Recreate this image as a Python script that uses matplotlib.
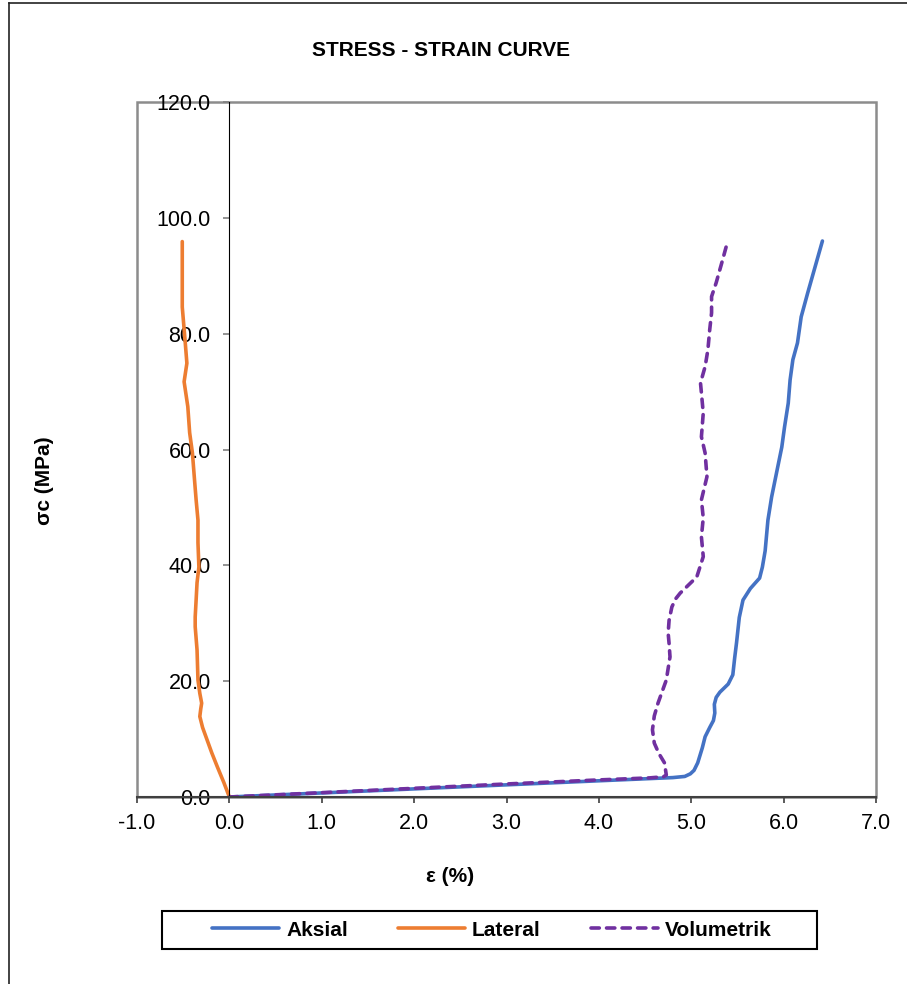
import numpy as np
import matplotlib.pyplot as plt
from matplotlib.patches import Rectangle
from matplotlib.lines import Line2D

plt.rcParams['font.family'] = ['Liberation Sans', 'DejaVu Sans']

# strain (%) / stress (MPa)
aksial_x = [0.0, 1.0, 2.0, 3.0, 4.0, 4.80, 4.93, 4.99, 5.03, 5.07, 5.12, 5.15, 5.20, 5.24,
            5.255, 5.25, 5.27, 5.31, 5.40, 5.45, 5.47, 5.49, 5.52, 5.56, 5.64, 5.74,
            5.77, 5.80, 5.83, 5.87, 5.93, 5.98, 6.01, 6.05, 6.07, 6.10, 6.15, 6.19,
            6.26, 6.34, 6.42]
aksial_y = [0.0, 0.7, 1.4, 2.1, 2.8, 3.35, 3.55, 4.0, 4.6, 5.9, 8.5, 10.4, 12.0, 13.2,
            14.5, 16.0, 17.2, 18.1, 19.5, 21.1, 24.0, 26.6, 31.0, 34.0, 36.0, 37.8,
            39.7, 42.5, 47.8, 51.8, 56.5, 60.4, 63.9, 68.0, 72.0, 75.5, 78.4, 82.9,
            87.0, 91.5, 96.0]

lateral_x = [0.0, -0.06, -0.13, -0.19, -0.24, -0.29, -0.32, -0.31, -0.30, -0.32, -0.34,
             -0.35, -0.37, -0.37, -0.36, -0.35, -0.33, -0.34, -0.34, -0.36, -0.38, -0.40,
             -0.43, -0.45, -0.49, -0.46, -0.48, -0.51, -0.51, -0.51]
lateral_y = [0.0, 2.5, 5.2, 7.6, 9.8, 12.0, 13.9, 15.2, 16.2, 17.9, 20.2,
             25.4, 29.4, 31.1, 34.0, 37.0, 39.7, 43.9, 47.8, 51.3, 55.3, 59.4,
             62.9, 67.4, 71.7, 74.9, 78.9, 84.6, 88.1, 95.9]

volum_x = [0.0, 1.0, 2.0, 3.0, 4.0, 4.55, 4.70, 4.73, 4.71, 4.65, 4.60, 4.58, 4.60, 4.64,
           4.73, 4.77, 4.76, 4.75, 4.76, 4.79, 4.83, 4.88, 5.06, 5.13, 5.11, 5.13, 5.11,
           5.17, 5.15, 5.11, 5.13, 5.10, 5.15, 5.18, 5.20, 5.22, 5.22, 5.27, 5.33, 5.39]
volum_y = [0.0, 0.75, 1.5, 2.25, 2.95, 3.3, 3.5, 3.8, 5.9, 7.5, 9.3, 11.6, 14.0, 16.2,
           20.2, 24.2, 26.5, 28.3, 30.5, 32.8, 34.2, 35.2, 38.0, 41.5, 44.9, 48.2, 51.3,
           55.3, 59.4, 62.2, 66.3, 71.5, 74.3, 77.2, 80.7, 83.6, 86.4, 88.8, 92.2, 95.7]

x_ticks = np.arange(-1.0, 7.01, 1.0)
y_ticks = np.arange(0.0, 120.01, 20.0)

fig = plt.figure(figsize=(9.07, 9.84), dpi=100)
W, H = 907.0, 984.0
ax = fig.add_axes([137 / W, 1 - 797 / H, (876 - 137) / W, (797 - 102) / H])

lw = 2.6
ax.plot(aksial_x, aksial_y, color='#4472C4', lw=lw, solid_joinstyle='round',
        solid_capstyle='round', label='Aksial')
ax.plot(lateral_x, lateral_y, color='#ED7D31', lw=lw, solid_joinstyle='round',
        solid_capstyle='round', label='Lateral')
ax.plot(volum_x, volum_y, color='#7030A0', lw=lw, ls=(0, (2.3, 2.0)),
        dash_capstyle='round', dash_joinstyle='round', label='Volumetrik')

ax.set_xlim(-1, 7)
ax.set_ylim(0, 120)
ax.set_xticks(x_ticks)
ax.set_yticks(y_ticks)
ax.set_xticklabels(['%.1f' % v for v in x_ticks])
ax.set_yticklabels(['%.1f' % v for v in y_ticks])

ax.spines['left'].set_position(('data', 0))
ax.spines['left'].set_color('black')
ax.spines['left'].set_linewidth(0.8)
ax.spines['bottom'].set_color('#404040')
ax.spines['bottom'].set_linewidth(1.5)
ax.spines['top'].set_visible(False)
ax.spines['right'].set_visible(False)
ax.add_patch(Rectangle((0, 0), 1, 1, transform=ax.transAxes, fill=False,
                       edgecolor='#8c8c8c', lw=1.8, clip_on=False, zorder=0.5))

ax.tick_params(axis='y', direction='out', length=4.5, width=1.2, color='#808080',
               labelsize=15.5, pad=9)
ax.tick_params(axis='x', direction='out', length=4.5, width=1.2, color='#404040',
               labelsize=15.5, pad=7)

fig.text(441 / W, 1 - 50 / H, 'STRESS - STRAIN CURVE', ha='center', va='center',
         fontsize=15, fontweight='bold')
fig.text(44 / W, 1 - 481 / H, 'σc (MPa)', ha='center', va='center', rotation=90,
         fontsize=15, fontweight='bold')
fig.text(450 / W, 1 - 877 / H, 'ε (%)', ha='center', va='center',
         fontsize=15, fontweight='bold')

leg = fig.legend(loc='center', bbox_to_anchor=(492 / W, 1 - 930 / H), ncol=3,
                 frameon=False, handlelength=3.2, handletextpad=0.35,
                 columnspacing=2.4, prop={'weight': 'bold', 'size': 15})
fig.add_artist(Rectangle((162 / W, 1 - 949 / H), (817 - 162) / W, 38 / H,
                         transform=fig.transFigure, fill=False, edgecolor='black', lw=1.5))

# outer chart border (only top and left visible)
fig.add_artist(Line2D([9 / W, 1.0], [1 - 3 / H, 1 - 3 / H], transform=fig.transFigure,
                      color='#222222', lw=1.2))
fig.add_artist(Line2D([9 / W, 9 / W], [0.0, 1 - 3 / H], transform=fig.transFigure,
                      color='#222222', lw=1.2))

fig.savefig('out.png', dpi=100)
